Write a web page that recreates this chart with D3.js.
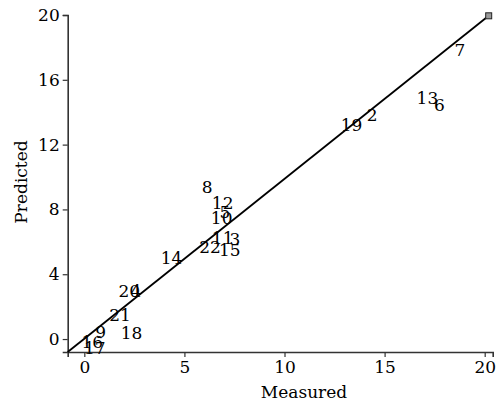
<!DOCTYPE html>
<html>
<head>
<meta charset="utf-8">
<script src="https://cdn.jsdelivr.net/npm/d3@7"></script>
<style>
  html, body { margin: 0; padding: 0; background: #fff; }
  svg text { font-family: "DejaVu Serif", serif; fill: #000; }
</style>
</head>
<body>
<svg id="chart" width="502" height="407"></svg>
<script>
// Sample identifiers and their measured / predicted values
const ids       = ["7", "13", "6", "2", "19", "8", "12", "5", "10", "11", "3", "22", "15", "14", "20", "4", "21", "18", "9", "16", "17"];
const measured  = [18.76, 17.14, 17.74, 14.38, 13.35, 6.14, 6.91, 7.02, 6.86, 6.91, 7.52, 6.28, 7.27, 4.36, 2.25, 2.58, 1.78, 2.36, 0.82, 0.40, 0.52];
const predicted = [17.84, 14.85, 14.45, 13.85, 13.20, 9.36, 8.38, 7.82, 7.45, 6.22, 6.15, 5.70, 5.49, 4.98, 2.98, 2.98, 1.48, 0.37, 0.45, -0.17, -0.57];

// Reference (agreement) line endpoints
const lineX = [-0.83, 20.2];
const lineY = [-0.8, 19.95];

const xTicks = [0, 5, 10, 15, 20];
const yTicks = [0, 4, 8, 12, 16, 20];

const svg = d3.select("#chart");

const x = d3.scaleLinear().domain([-0.83, 20.4]).range([67.7, 492.7]);
const y = d3.scaleLinear().domain([-0.8, 20]).range([352, 15]);

const axisColor = "#333";

// X axis
const gx = svg.append("g")
  .attr("transform", `translate(0,${y(-0.8)})`)
  .call(d3.axisBottom(x).tickValues(xTicks).tickFormat(d3.format("d")).tickSizeOuter(0).tickSize(5).tickPadding(4));
// Y axis
const gy = svg.append("g")
  .attr("transform", `translate(${x(-0.83)},0)`)
  .call(d3.axisLeft(y).tickValues(yTicks).tickFormat(d3.format("d")).tickSizeOuter(0).tickSize(5).tickPadding(3));

[gx, gy].forEach(g => {
  g.select(".domain").attr("stroke", axisColor).attr("stroke-width", 1.6);
  g.selectAll(".tick line").attr("stroke", axisColor).attr("stroke-width", 1.2);
  g.selectAll(".tick text").style("font-size", "17px").attr("fill", "#000");
});

// Reference line
svg.append("line")
  .attr("x1", x(lineX[0])).attr("y1", y(lineY[0]))
  .attr("x2", x(lineX[1])).attr("y2", y(lineY[1]))
  .attr("stroke", "#000").attr("stroke-width", 1.8);

// End marker
svg.append("rect")
  .attr("x", x(lineX[1]) - 3).attr("y", y(lineY[1]) - 3)
  .attr("width", 6).attr("height", 6)
  .attr("fill", "#999").attr("stroke", "#222").attr("stroke-width", 1);

// Sample labels placed at their values
svg.append("g").selectAll("text")
  .data(ids)
  .join("text")
  .attr("x", (d, i) => x(measured[i]))
  .attr("y", (d, i) => y(predicted[i]))
  .attr("text-anchor", "middle")
  .attr("dominant-baseline", "central")
  .style("font-size", "17px")
  .text(d => d);

// Axis titles
svg.append("text")
  .attr("x", 304).attr("y", 398)
  .attr("text-anchor", "middle")
  .style("font-size", "17px")
  .text("Measured");

svg.append("text")
  .attr("transform", `translate(27,182) rotate(-90)`)
  .attr("text-anchor", "middle")
  .style("font-size", "17px")
  .text("Predicted");
</script>
</body>
</html>
